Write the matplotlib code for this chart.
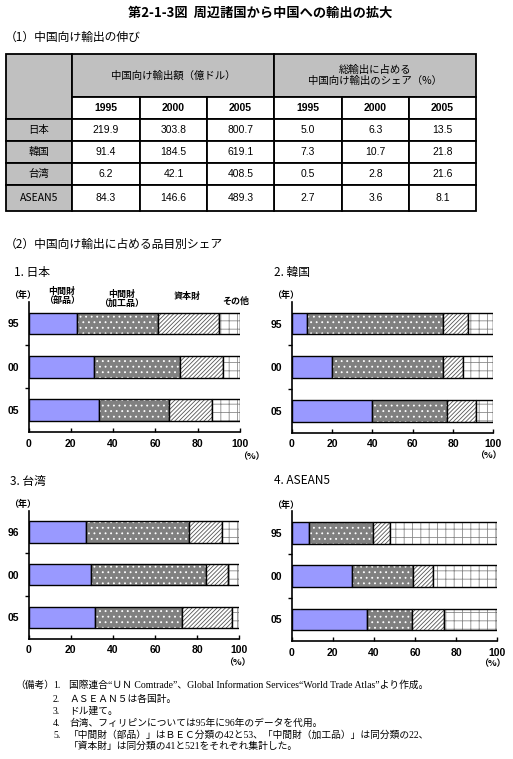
import matplotlib.pyplot as plt
from matplotlib.patches import Rectangle

plt.rcParams['font.family'] = ['Noto Sans CJK JP', 'DejaVu Sans']
plt.rcParams['hatch.linewidth'] = 0.6

# table data
countries = ['日本', '韓国', '台湾', 'ASEAN5']
years = ['1995', '2000', '2005']
export_value = [[219.9, 303.8, 800.7], [91.4, 184.5, 619.1],
                [6.2, 42.1, 408.5], [84.3, 146.6, 489.3]]
export_share = [[5.0, 6.3, 13.5], [7.3, 10.7, 21.8],
                [0.5, 2.8, 21.6], [2.7, 3.6, 8.1]]

# bar data: parts, processed, capital, other (per year)
goods = ['中間財\n（部品）', '中間財\n（加工品）', '資本財', 'その他']
panel_titles = ['1. 日本', '2. 韓国', '3. 台湾', '4. ASEAN5']
panel_years = [['95', '00', '05'], ['95', '00', '05'],
               ['96', '00', '05'], ['95', '00', '05']]
japan = [[23.1, 31.2, 33.1], [38.3, 40.6, 33.5], [28.8, 20.2, 20.3], [9.8, 8.0, 13.1]]
korea = [[7.7, 19.8, 40.0], [67.5, 55.4, 37.1], [12.4, 9.9, 14.1], [12.4, 14.9, 8.8]]
taiwan = [[27.1, 29.7, 31.6], [49.2, 54.6, 41.3], [15.6, 10.5, 23.8], [8.1, 5.2, 3.3]]
asean = [[8.6, 29.5, 36.8], [31.1, 29.6, 21.6], [8.3, 9.8, 15.5], [52.0, 31.1, 26.1]]
panel_data = [japan, korea, taiwan, asean]

W, H = 513, 759
fig = plt.figure(figsize=(W / 100, H / 100), dpi=100)


def px_axes(x0, y0, x1, y1):
    return fig.add_axes([x0 / W, 1 - y1 / H, (x1 - x0) / W, (y1 - y0) / H])


def px_text(x, y, s, **kw):
    fig.text(x / W, 1 - y / H, s, **kw)


px_text(260, 13, '第2-1-3図  周辺諸国から中国への輸出の拡大', fontsize=9.5, fontweight='bold',
        ha='center', va='center')
px_text(5, 37, '（1）中国向け輸出の伸び', fontsize=8.5, va='center')

# ---- table ----
tax = px_axes(6, 54, 476, 211)
tax.set_xlim(0, 470)
tax.set_ylim(157, 0)
tax.axis('off')
col_x = [0, 66, 134, 201, 268, 336, 403, 470]
row_y = [0, 43, 65, 87, 109, 131, 157]
gray = '#C0C0C0'
num_font = ['Liberation Sans', 'DejaVu Sans']


def cell(c0, c1, r0, r1, color, text='', **kw):
    tax.add_patch(Rectangle((col_x[c0], row_y[r0]), col_x[c1] - col_x[c0],
                            row_y[r1] - row_y[r0], facecolor=color,
                            edgecolor='black', linewidth=1.3, clip_on=False))
    if text:
        tax.text((col_x[c0] + col_x[c1]) / 2, (row_y[r0] + row_y[r1]) / 2, text,
                 ha='center', va='center', fontsize=7.5, **kw)


cell(0, 1, 0, 2, gray)
cell(1, 4, 0, 1, gray, '中国向け輸出額（億ドル）')
cell(4, 7, 0, 1, gray, '総輸出に占める\n中国向け輸出のシェア（%）', linespacing=1.1)
for j in range(6):
    cell(j + 1, j + 2, 1, 2, 'white', years[j % 3], fontweight='bold', family=num_font)
for i, name in enumerate(countries):
    cell(0, 1, i + 2, i + 3, gray, name)
    for j in range(3):
        cell(j + 1, j + 2, i + 2, i + 3, 'white', f'{export_value[i][j]:.1f}',
             family=num_font)
        cell(j + 4, j + 5, i + 2, i + 3, 'white', f'{export_share[i][j]:.1f}',
             family=num_font)

px_text(5, 244, '（2）中国向け輸出に占める品目別シェア', fontsize=8.5, va='center')

# ---- bar panels ----
boxes = [(28.5, 301.7, 240, 431.7), (291.7, 301.7, 493.3, 432.5),
         (28.7, 510.7, 239.3, 638.5), (291.7, 511, 497.3, 641)]
title_pos = [(14, 273), (274, 273), (10, 481), (274, 481)]
pct_pos = [(251, 457), (488, 456), (237, 663), (492, 664)]
fills = [dict(color='#9999FF', hatch=None, hc=None),
         dict(color='#808080', hatch='...', hc='white'),
         dict(color='white', hatch='////////', hc='#555555'),
         dict(color='white', hatch='++', hc='#8a8a8a')]

for k, (box, data) in enumerate(zip(boxes, panel_data)):
    ax = px_axes(*box)
    y = range(len(panel_years[k]))
    left = [0, 0, 0]
    for series, f in zip(data, fills):
        ax.barh(y, series, left=left, height=0.5, color=f['color'],
                hatch=f['hatch'], edgecolor=f['hc'] or f['color'], linewidth=0)
        ax.barh(y, series, left=left, height=0.5, fill=False,
                edgecolor='black', linewidth=1.0)
        left = [a + b for a, b in zip(left, series)]
    ax.set_xlim(0, 100)
    ax.set_ylim(2.5, -0.5)
    ax.set_xticks(range(0, 101, 20))
    ax.set_yticks(list(y))
    ax.set_yticklabels(panel_years[k])
    ax.set_yticks([0.5, 1.5], minor=True)
    ax.tick_params(axis='y', which='major', length=0, pad=7)
    ax.tick_params(axis='y', which='minor', length=3, direction='out', width=1)
    ax.tick_params(axis='x', length=3, direction='in', width=1, pad=5)
    for lab in ax.get_xticklabels() + ax.get_yticklabels():
        lab.set_fontsize(7.5)
        lab.set_fontweight('bold')
        lab.set_family(num_font)
    for s in ['top', 'right']:
        ax.spines[s].set_visible(False)
    for s in ['left', 'bottom']:
        ax.spines[s].set_linewidth(1.2)
    tx, ty = title_pos[k]
    px_text(tx, ty, panel_titles[k], fontsize=8.5, va='center')
    x0, y0, x1, y1 = box
    px_text(x0 - 6, y0 - 6, '（年）', fontsize=6.5, fontweight='bold', ha='center', va='center')
    px, py = pct_pos[k]
    px_text(px, py, '（%）', fontsize=6.5, fontweight='bold', ha='center', va='center')

# category labels over Japan panel
label_pos = [(62, 296), (122, 299), (187, 296), (236, 301)]
for name, (lx, ly) in zip(goods, label_pos):
    px_text(lx, ly, name, fontsize=6.5, fontweight='bold', ha='center', va='center',
            linespacing=1.0)

# notes
note_font = ['Liberation Serif', 'Noto Sans CJK JP']
px_text(15, 685, '（備考）', fontsize=7, va='center', family=note_font)
notes = ['国際連合“ＵＮ Comtrade”、Global Information Services“World Trade Atlas”より作成。',
         'ＡＳＥＡＮ５は各国計。',
         'ドル建て。',
         '台湾、フィリピンについては95年に96年のデータを代用。',
         '「中間財（部品）」はＢＥＣ分類の42と53、「中間財（加工品）」は同分類の22、',
         '「資本財」は同分類の41と521をそれぞれ集計した。']
note_y = [685, 699, 711, 723, 735, 746]
for i, (t, ny) in enumerate(zip(notes, note_y)):
    if i < 5:
        px_text(53, ny, f'{i + 1}.', fontsize=7, va='center', family=note_font)
    px_text(69, ny, t, fontsize=7, va='center', family=note_font)

fig.savefig('out.png', dpi=100)
